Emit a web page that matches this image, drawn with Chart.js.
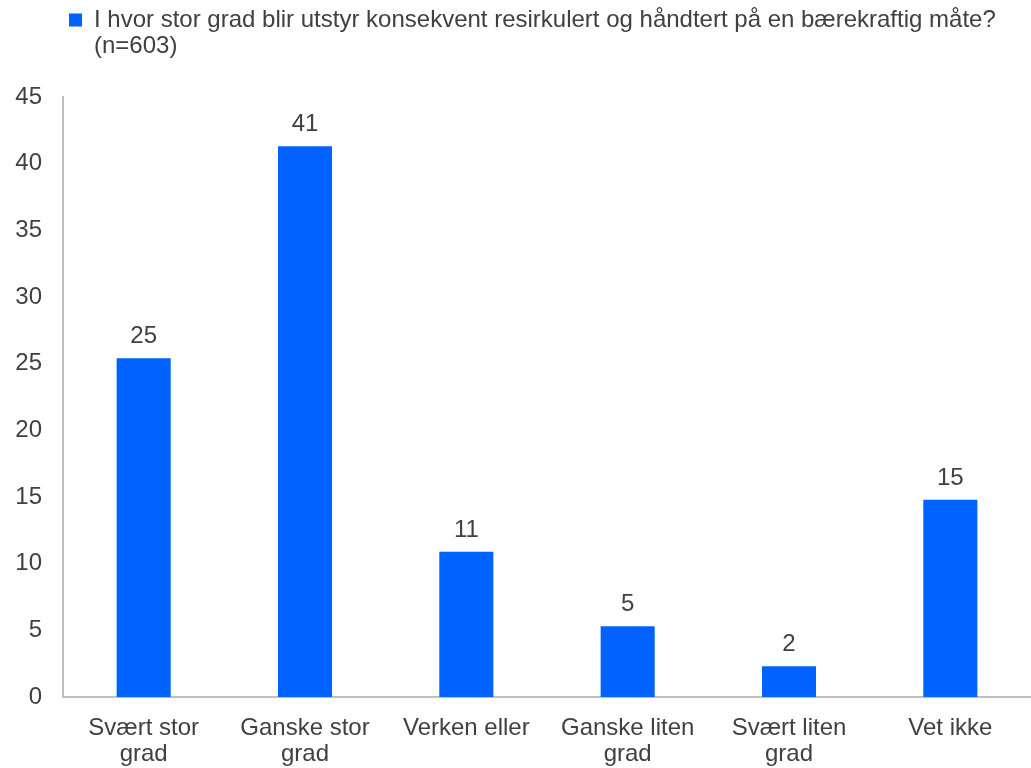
<!DOCTYPE html>
<html>
<head>
<meta charset="utf-8">
<script src="https://cdn.jsdelivr.net/npm/chart.js@4/dist/chart.umd.min.js"></script>
<style>
  html, body { margin: 0; padding: 0; background: #fff; }
  #wrap { width: 1031px; height: 768px; }
</style>
</head>
<body>
<div id="wrap"><canvas id="chart"></canvas></div>
<script>
// data
const categories = [
  ['Svært stor', 'grad'],
  ['Ganske stor', 'grad'],
  'Verken eller',
  ['Ganske liten', 'grad'],
  ['Svært liten', 'grad'],
  'Vet ikke'
];
const values = [25.4, 41.3, 10.9, 5.3, 2.3, 14.8];
const valueLabels = ['25', '41', '11', '5', '2', '15'];
const seriesName = [
  'I hvor stor grad blir utstyr konsekvent resirkulert og håndtert på en bærekraftig måte?',
  '(n=603)'
];
const yMin = 0, yMax = 45, yStep = 5;

const BLUE = '#0062FF';
const TEXT = '#404040';
const AXIS = '#BFBFBF';
const FONT = '"Liberation Sans", Arial, sans-serif';

// numbers above each bar, positioned from the bar elements
const valueLabelPlugin = {
  id: 'valueLabels',
  afterDatasetsDraw(chart) {
    const ctx = chart.ctx;
    const meta = chart.getDatasetMeta(0);
    ctx.save();
    ctx.font = '24px ' + FONT;
    ctx.fillStyle = TEXT;
    ctx.textAlign = 'center';
    ctx.textBaseline = 'alphabetic';
    meta.data.forEach((bar, i) => {
      ctx.fillText(valueLabels[i], bar.x, bar.y - 15);
    });
    ctx.restore();
  }
};

// legend is two lines: pin it to the top, make its box tall enough
// for the second line (legend clips to its box), start it near the axis
const legendNudge = {
  id: 'legendNudge',
  afterLayout(chart) {
    const lg = chart.legend;
    lg.top = 0;
    lg.bottom = 90;
    lg.height = 90;
    lg.left = 61;
    lg.right = 1031;
    lg.width = lg.right - lg.left;
  }
};

new Chart(document.getElementById('chart'), {
  type: 'bar',
  data: {
    labels: categories,
    datasets: [{
      label: seriesName.join(' '),
      data: values,
      backgroundColor: BLUE,
      borderWidth: 0,
      barPercentage: 0.335,
      categoryPercentage: 1
    }]
  },
  options: {
    responsive: true,
    maintainAspectRatio: false,
    animation: false,
    events: [],
    layout: { padding: { left: 0, right: 0, top: 55, bottom: 0 } },
    scales: {
      x: {
        grid: { display: false, drawTicks: false },
        border: { display: true, color: AXIS, width: 2 },
        ticks: {
          color: TEXT,
          font: { family: FONT, size: 24, lineHeight: 1.07 },
          padding: 19,
          maxRotation: 0,
          autoSkip: false
        },
        afterFit: (scale) => { scale.height = 71; }
      },
      y: {
        min: yMin,
        max: yMax,
        grid: { display: false, drawTicks: false },
        border: { display: true, color: AXIS, width: 2 },
        ticks: {
          stepSize: yStep,
          color: TEXT,
          font: { family: FONT, size: 24 },
          padding: 21
        },
        afterFit: (scale) => { scale.width = 63; }
      }
    },
    plugins: {
      legend: {
        position: 'top',
        align: 'start',
        labels: {
          boxWidth: 13,
          boxHeight: 13,
          padding: 8,
          color: TEXT,
          font: { family: FONT, size: 24, lineHeight: 1.1 },
          generateLabels: () => [{
            text: seriesName,
            fillStyle: BLUE,
            strokeStyle: BLUE,
            lineWidth: 0,
            hidden: false,
            datasetIndex: 0,
            fontColor: TEXT
          }]
        }
      },
      tooltip: { enabled: false }
    }
  },
  plugins: [valueLabelPlugin, legendNudge]
});
</script>
</body>
</html>
